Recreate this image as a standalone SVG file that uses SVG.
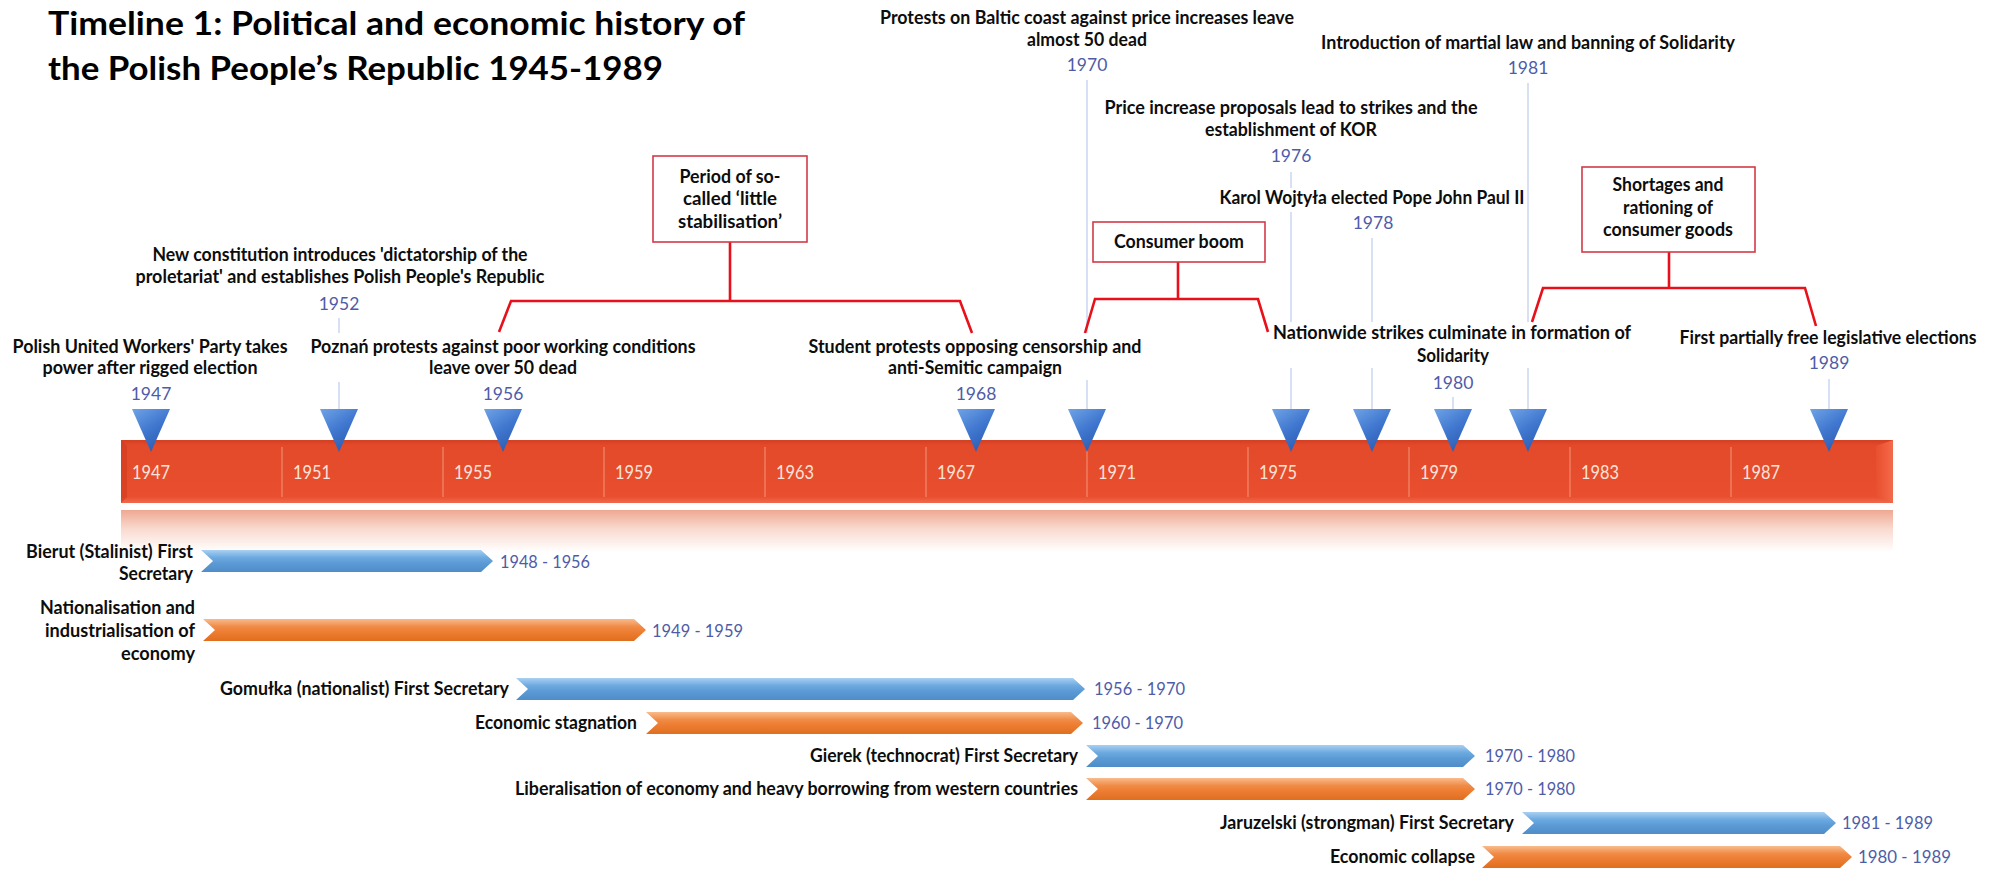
<svg xmlns="http://www.w3.org/2000/svg" width="2001" height="870" viewBox="0 0 2001 870">
<defs>
<linearGradient id="gBar" x1="0" y1="0" x2="0" y2="1">
<stop offset="0" stop-color="#D43E22"/><stop offset="0.08" stop-color="#E24A2A"/><stop offset="0.9" stop-color="#E94F2E"/><stop offset="1" stop-color="#EF6A4E"/>
</linearGradient>
<linearGradient id="gEnd" x1="0" y1="0" x2="1" y2="0">
<stop offset="0" stop-color="#E94F2E"/><stop offset="1" stop-color="#F36A4A"/>
</linearGradient>
<linearGradient id="gRefl" x1="0" y1="0" x2="0" y2="1">
<stop offset="0" stop-color="#EFA892"/><stop offset="0.45" stop-color="#F9DACF"/><stop offset="1" stop-color="#FFFFFF"/>
</linearGradient>
<linearGradient id="gTri" x1="0" y1="0" x2="0.6" y2="1">
<stop offset="0" stop-color="#6FA3E6"/><stop offset="0.55" stop-color="#4077CF"/><stop offset="1" stop-color="#2D5CB2"/>
</linearGradient>
<linearGradient id="gBlue" x1="0" y1="0" x2="0" y2="1">
<stop offset="0" stop-color="#A9D0F2"/><stop offset="0.35" stop-color="#6CA9E0"/><stop offset="0.6" stop-color="#5B9BD5"/><stop offset="1" stop-color="#4F8CC8"/>
</linearGradient>
<linearGradient id="gOrange" x1="0" y1="0" x2="0" y2="1">
<stop offset="0" stop-color="#F9BB8C"/><stop offset="0.35" stop-color="#F08B46"/><stop offset="0.6" stop-color="#ED7D31"/><stop offset="1" stop-color="#DF6E1F"/>
</linearGradient>
<polygon id="tri" points="-19,409 19,409 0,452" fill="url(#gTri)"/>
</defs>
<style>
.title{font-family:Lato,"Liberation Sans",sans-serif;font-weight:bold;font-size:32px;fill:#000}
.t{font-family:Lato,"Liberation Sans",sans-serif;font-weight:bold;font-size:18px;fill:#0D0D0D}
.c{text-anchor:middle}
.e{text-anchor:end}
.y{font-family:Lato,"Liberation Sans",sans-serif;font-size:17.5px;fill:#4E5CA8}
.by{font-family:Lato,"Liberation Sans",sans-serif;font-size:18.5px;fill:#FCE3D9}
.ln{stroke:#AFC3E6;stroke-width:1;fill:none}
.sep{stroke:#F39478;stroke-width:1}
.br{stroke:#E8111B;stroke-width:2.6;fill:none;stroke-linejoin:miter}
.box{fill:#fff;stroke:#D23A46;stroke-width:1.6}
.blue{fill:url(#gBlue)}
.orange{fill:url(#gOrange)}
</style>
<rect width="2001" height="870" fill="#fff"/>

<g id="title">
<text class="title" x="48" y="35" textLength="697" lengthAdjust="spacingAndGlyphs">Timeline 1: Political and economic history of</text>
<text class="title" x="48" y="80" textLength="615" lengthAdjust="spacingAndGlyphs">the Polish People’s Republic 1945-1989</text>
</g>

<g id="timeline-bar">
<rect x="121" y="510" width="1772" height="42" fill="url(#gRefl)"/>
<rect x="121" y="440" width="1772" height="63" fill="url(#gBar)"/>
<polygon points="121,440 127,446 127,497 121,503" fill="#D03B1E" opacity="0.6"/>
<polygon points="1876,446 1893,440 1893,503 1876,497" fill="url(#gEnd)"/>
<g class="sep">
<line x1="282" y1="447" x2="282" y2="497"/><line x1="443" y1="447" x2="443" y2="497"/><line x1="604" y1="447" x2="604" y2="497"/><line x1="765" y1="447" x2="765" y2="497"/><line x1="926" y1="447" x2="926" y2="497"/><line x1="1087" y1="447" x2="1087" y2="497"/><line x1="1248" y1="447" x2="1248" y2="497"/><line x1="1409" y1="447" x2="1409" y2="497"/><line x1="1570" y1="447" x2="1570" y2="497"/><line x1="1731" y1="447" x2="1731" y2="497"/>
</g>
<text class="by" x="132" y="479" textLength="38" lengthAdjust="spacingAndGlyphs">1947</text>
<text class="by" x="293" y="479" textLength="38" lengthAdjust="spacingAndGlyphs">1951</text>
<text class="by" x="454" y="479" textLength="38" lengthAdjust="spacingAndGlyphs">1955</text>
<text class="by" x="615" y="479" textLength="38" lengthAdjust="spacingAndGlyphs">1959</text>
<text class="by" x="776" y="479" textLength="38" lengthAdjust="spacingAndGlyphs">1963</text>
<text class="by" x="937" y="479" textLength="38" lengthAdjust="spacingAndGlyphs">1967</text>
<text class="by" x="1098" y="479" textLength="38" lengthAdjust="spacingAndGlyphs">1971</text>
<text class="by" x="1259" y="479" textLength="38" lengthAdjust="spacingAndGlyphs">1975</text>
<text class="by" x="1420" y="479" textLength="38" lengthAdjust="spacingAndGlyphs">1979</text>
<text class="by" x="1581" y="479" textLength="38" lengthAdjust="spacingAndGlyphs">1983</text>
<text class="by" x="1742" y="479" textLength="38" lengthAdjust="spacingAndGlyphs">1987</text>
</g>

<g id="connectors">
<path class="ln" d="M339 318V333M339 382V409"/>
<path class="ln" d="M1087 80V333M1087 380V409"/>
<path class="ln" d="M1291 172V188M1291 212V322M1291 368V409"/>
<path class="ln" d="M1372 238V322M1372 368V409"/>
<path class="ln" d="M1453 397V409"/>
<path class="ln" d="M1528 83V322M1528 368V409"/>
<path class="ln" d="M1829 379V409"/>
<path class="br" d="M730 242V301M499 332L511 301H960L972 333"/>
<path class="br" d="M1178 262V299M1085 333L1095 299H1258L1268 332"/>
<path class="br" d="M1669 252V288M1532 322L1543 288H1805L1816 326"/>
</g>

<g id="markers">
<use href="#tri" x="151"/><use href="#tri" x="339"/><use href="#tri" x="503"/><use href="#tri" x="976"/><use href="#tri" x="1087"/><use href="#tri" x="1291"/><use href="#tri" x="1372"/><use href="#tri" x="1453"/><use href="#tri" x="1528"/><use href="#tri" x="1829"/>
</g>

<g id="ev1947">
<text class="t c" x="150" y="353" textLength="275" lengthAdjust="spacingAndGlyphs">Polish United Workers' Party takes</text>
<text class="t c" x="150" y="374" textLength="215" lengthAdjust="spacingAndGlyphs">power after rigged election</text>
<text class="y c" x="151" y="400">1947</text>
</g>
<g id="ev1952">
<text class="t c" x="340" y="261" textLength="375" lengthAdjust="spacingAndGlyphs">New constitution introduces 'dictatorship of the</text>
<text class="t c" x="340" y="283" textLength="409" lengthAdjust="spacingAndGlyphs">proletariat' and establishes Polish People's Republic</text>
<text class="y c" x="339" y="310">1952</text>
</g>
<g id="ev1956">
<text class="t c" x="503" y="353" textLength="385" lengthAdjust="spacingAndGlyphs">Poznań protests against poor working conditions</text>
<text class="t c" x="503" y="374" textLength="148" lengthAdjust="spacingAndGlyphs">leave over 50 dead</text>
<text class="y c" x="503" y="400">1956</text>
</g>
<g id="ev1968">
<text class="t c" x="975" y="353" textLength="333" lengthAdjust="spacingAndGlyphs">Student protests opposing censorship and</text>
<text class="t c" x="975" y="374" textLength="174" lengthAdjust="spacingAndGlyphs">anti-Semitic campaign</text>
<text class="y c" x="976" y="400">1968</text>
</g>
<g id="ev1970">
<text class="t c" x="1087" y="24" textLength="414" lengthAdjust="spacingAndGlyphs">Protests on Baltic coast against price increases leave</text>
<text class="t c" x="1087" y="46" textLength="120" lengthAdjust="spacingAndGlyphs">almost 50 dead</text>
<text class="y c" x="1087" y="71">1970</text>
</g>
<g id="ev1976">
<text class="t c" x="1291" y="114" textLength="373" lengthAdjust="spacingAndGlyphs">Price increase proposals lead to strikes and the</text>
<text class="t c" x="1291" y="136" textLength="172" lengthAdjust="spacingAndGlyphs">establishment of KOR</text>
<text class="y c" x="1291" y="162">1976</text>
</g>
<g id="ev1978">
<text class="t c" x="1372" y="204" textLength="305" lengthAdjust="spacingAndGlyphs">Karol Wojtyła elected Pope John Paul II</text>
<text class="y c" x="1373" y="229">1978</text>
</g>
<g id="ev1980">
<text class="t c" x="1452" y="339" textLength="358" lengthAdjust="spacingAndGlyphs">Nationwide strikes culminate in formation of</text>
<text class="t c" x="1453" y="362" textLength="72" lengthAdjust="spacingAndGlyphs">Solidarity</text>
<text class="y c" x="1453" y="389">1980</text>
</g>
<g id="ev1981">
<text class="t c" x="1528" y="49" textLength="414" lengthAdjust="spacingAndGlyphs">Introduction of martial law and banning of Solidarity</text>
<text class="y c" x="1528" y="74">1981</text>
</g>
<g id="ev1989">
<text class="t c" x="1828" y="344" textLength="297" lengthAdjust="spacingAndGlyphs">First partially free legislative elections</text>
<text class="y c" x="1829" y="369">1989</text>
</g>

<g id="period-little-stabilisation">
<rect class="box" x="653" y="156" width="154" height="86"/>
<text class="t c" x="730" y="183" textLength="101" lengthAdjust="spacingAndGlyphs">Period of so-</text>
<text class="t c" x="730" y="205" textLength="94" lengthAdjust="spacingAndGlyphs">called ‘little</text>
<text class="t c" x="730" y="228" textLength="104" lengthAdjust="spacingAndGlyphs">stabilisation’</text>
</g>
<g id="period-consumer-boom">
<rect class="box" x="1093" y="222" width="172" height="40"/>
<text class="t c" x="1179" y="248" textLength="130" lengthAdjust="spacingAndGlyphs">Consumer boom</text>
</g>
<g id="period-shortages">
<rect class="box" x="1582" y="167" width="173" height="85"/>
<text class="t c" x="1668" y="191" textLength="111" lengthAdjust="spacingAndGlyphs">Shortages and</text>
<text class="t c" x="1668" y="214" textLength="90" lengthAdjust="spacingAndGlyphs">rationing of</text>
<text class="t c" x="1668" y="236" textLength="130" lengthAdjust="spacingAndGlyphs">consumer goods</text>
</g>

<g id="span-bierut">
<path class="blue" d="M201 550H481L493 561L481 572H201L213 561Z"/>
<text class="t e" x="193" y="558" textLength="167" lengthAdjust="spacingAndGlyphs">Bierut (Stalinist) First</text>
<text class="t e" x="193" y="580" textLength="74" lengthAdjust="spacingAndGlyphs">Secretary</text>
<text class="y" x="500" y="568" textLength="90" lengthAdjust="spacingAndGlyphs">1948 - 1956</text>
</g>
<g id="span-nationalisation">
<path class="orange" d="M203 619H634L646 630L634 641H203L215 630Z"/>
<text class="t e" x="195" y="614" textLength="155" lengthAdjust="spacingAndGlyphs">Nationalisation and</text>
<text class="t e" x="195" y="637" textLength="150" lengthAdjust="spacingAndGlyphs">industrialisation of</text>
<text class="t e" x="195" y="660" textLength="74" lengthAdjust="spacingAndGlyphs">economy</text>
<text class="y" x="652" y="637" textLength="91" lengthAdjust="spacingAndGlyphs">1949 - 1959</text>
</g>
<g id="span-gomulka">
<path class="blue" d="M516 678H1073L1085 689L1073 700H516L528 689Z"/>
<text class="t e" x="509" y="695" textLength="289" lengthAdjust="spacingAndGlyphs">Gomułka (nationalist) First Secretary</text>
<text class="y" x="1094" y="695" textLength="91" lengthAdjust="spacingAndGlyphs">1956 - 1970</text>
</g>
<g id="span-stagnation">
<path class="orange" d="M646 712H1071L1083 723L1071 734H646L658 723Z"/>
<text class="t e" x="637" y="729" textLength="162" lengthAdjust="spacingAndGlyphs">Economic stagnation</text>
<text class="y" x="1092" y="729" textLength="91" lengthAdjust="spacingAndGlyphs">1960 - 1970</text>
</g>
<g id="span-gierek">
<path class="blue" d="M1086 745H1463L1475 756L1463 767H1086L1098 756Z"/>
<text class="t e" x="1078" y="762" textLength="268" lengthAdjust="spacingAndGlyphs">Gierek (technocrat) First Secretary</text>
<text class="y" x="1485" y="762" textLength="90" lengthAdjust="spacingAndGlyphs">1970 - 1980</text>
</g>
<g id="span-liberalisation">
<path class="orange" d="M1086 778H1463L1475 789L1463 800H1086L1098 789Z"/>
<text class="t e" x="1078" y="795" textLength="563" lengthAdjust="spacingAndGlyphs">Liberalisation of economy and heavy borrowing from western countries</text>
<text class="y" x="1485" y="795" textLength="90" lengthAdjust="spacingAndGlyphs">1970 - 1980</text>
</g>
<g id="span-jaruzelski">
<path class="blue" d="M1522 812H1824L1836 823L1824 834H1522L1534 823Z"/>
<text class="t e" x="1514" y="829" textLength="294" lengthAdjust="spacingAndGlyphs">Jaruzelski (strongman) First Secretary</text>
<text class="y" x="1842" y="829" textLength="91" lengthAdjust="spacingAndGlyphs">1981 - 1989</text>
</g>
<g id="span-collapse">
<path class="orange" d="M1482 846H1840L1852 857L1840 868H1482L1494 857Z"/>
<text class="t e" x="1475" y="863" textLength="145" lengthAdjust="spacingAndGlyphs">Economic collapse</text>
<text class="y" x="1858" y="863" textLength="93" lengthAdjust="spacingAndGlyphs">1980 - 1989</text>
</g>
</svg>
